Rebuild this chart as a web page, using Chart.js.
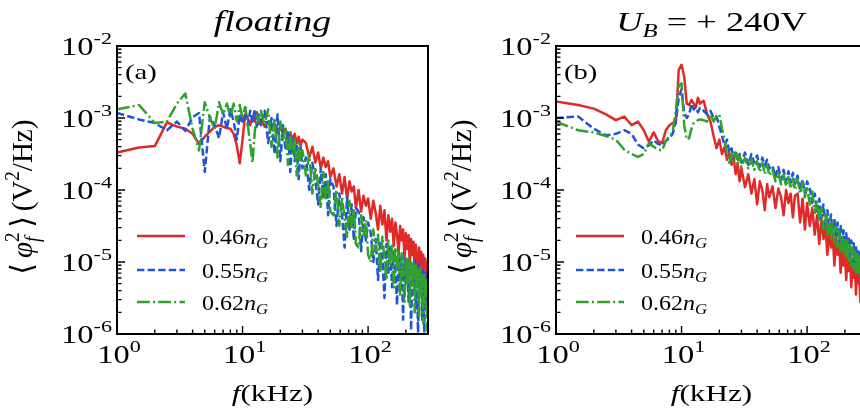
<!DOCTYPE html>
<html>
<head>
<meta charset="utf-8">
<script src="https://cdn.jsdelivr.net/npm/chart.js@4.4.1/dist/chart.umd.min.js"></script>
<style>
body{margin:0;width:860px;height:415px;overflow:hidden;background:#fff;position:relative}
canvas{position:absolute;top:0}
</style>
</head>
<body>
<canvas id="cA" width="440" height="415" style="left:0"></canvas>
<canvas id="cB" width="440" height="415" style="left:439px"></canvas>
<script>
// frequency grid (kHz), shared by both panels
const freqKHz = [1,1.5,2,2.5,3,3.5,4,4.5,5,5.5,6,6.5,7,7.5,8,8.5,9,9.5,10,
  10.5,11,11.5,12,12.5,13,13.5,14,
  15,16,17,18,19,20,21,22,23,24,25,26,27,28,29,30,
  32,34,36,38,40,42,44,46,48,50,
  53,56,59,62,65,68,71,74,77,80,
  84,88,92,96,100,
  105,110,115,120,125,130,135,140,145,150,155,160,165,170,175,180,185,190,195,200,
  205,210,215,220,225,230,235,240,245,250,255,260,265,270,275,280,285,290,295,300];

// log10 of <phi_f^2> (V^2/Hz)
// (a) floating
const redA = [-3.48,-3.41,-3.39,-3.06,-3.12,-3.15,-3.22,-3.36,-3.26,-3.19,-3.12,-3.10,-3.12,-3.14,-3.15,-3.22,-3.38,-3.63,-3.30,
  -2.95,-3.00,-3.10,-2.98,-3.05,-2.92,-3.08,-3.02,
  -3.12,-3.05,-3.15,-3.08,-3.20,-3.12,-3.22,-3.15,-3.28,-3.20,-3.30,-3.22,-3.35,-3.26,-3.38,-3.30,
  -3.35,-3.55,-3.40,-3.62,-3.48,-3.70,-3.55,-3.68,-3.60,-3.82,
  -3.70,-3.95,-3.78,-4.05,-3.82,-4.12,-3.88,-4.02,-3.95,-4.25,
  -4.00,-4.30,-4.08,-4.22,-4.12,
  -4.40,-4.15,-4.32,-4.55,-4.22,-4.48,-4.28,-4.70,-4.35,-4.58,-4.40,-4.78,-4.45,-4.62,-4.88,-4.50,-4.70,-4.55,-4.95,-4.60,
  -4.82,-4.63,-5.05,-4.68,-4.90,-4.72,-5.12,-4.76,-4.98,-5.18,-4.80,-5.05,-4.86,-5.25,-4.90,-5.10,-4.95,-5.30,-5.00,-5.22];
const blueA = [-2.93,-3.02,-3.07,-3.17,-3.05,-3.18,-2.99,-2.93,-3.75,-2.98,-3.10,-3.28,-2.92,-3.15,-2.88,-3.05,-3.30,-2.95,-3.08,
  -2.85,-3.10,-2.90,-3.05,-2.88,-3.12,-2.95,-3.10,
  -2.90,-3.35,-3.00,-3.50,-2.95,-3.60,-3.10,-3.45,-3.20,-3.75,-3.25,-3.60,-3.35,-3.85,-3.40,-3.70,
  -3.55,-4.00,-3.62,-3.85,-4.20,-3.70,-4.10,-3.78,-4.35,-3.85,
  -3.95,-4.50,-4.05,-4.35,-4.80,-4.10,-4.55,-4.20,-4.70,-4.25,
  -4.30,-4.85,-4.38,-4.70,-4.45,
  -4.60,-5.00,-4.68,-5.25,-4.70,-4.95,-5.50,-4.75,-5.15,-4.80,-5.35,-4.85,-5.10,-5.60,-4.88,-5.25,-4.92,-5.80,-4.95,-5.30,
  -4.98,-5.55,-5.00,-5.95,-5.05,-5.35,-4.98,-5.65,-5.08,-6.05,-5.02,-5.45,-5.10,-5.80,-5.12,-6.05,-5.15,-5.55,-5.20,-5.90];
const greenA = [-2.88,-2.82,-3.07,-3.05,-2.80,-2.66,-3.15,-3.45,-2.78,-3.00,-3.15,-2.78,-2.95,-2.80,-2.98,-2.80,-3.05,-2.82,-3.00,
  -2.85,-3.10,-3.35,-3.62,-3.20,-2.95,-3.05,-2.90,
  -3.10,-2.88,-3.40,-3.00,-3.55,-3.05,-3.30,-3.15,-3.65,-3.20,-3.50,-3.30,-3.80,-3.35,-3.62,-3.45,
  -3.80,-3.50,-4.05,-3.68,-3.92,-4.25,-3.75,-4.15,-3.85,-4.30,
  -4.35,-4.00,-4.50,-4.10,-4.40,-4.65,-4.15,-4.55,-4.25,-4.75,
  -4.80,-4.35,-4.62,-4.42,-4.90,
  -5.00,-4.55,-4.85,-4.62,-5.15,-4.65,-4.95,-5.25,-4.70,-5.05,-4.75,-5.35,-4.80,-5.10,-4.85,-5.45,-4.88,-5.20,-5.55,-4.92,
  -5.30,-4.95,-5.60,-4.98,-5.35,-5.02,-5.70,-5.05,-5.40,-5.08,-5.75,-5.10,-5.50,-5.15,-5.85,-5.18,-5.55,-5.22,-5.95,-5.30];

// (b) U_B = +240 V
const redB = [-2.77,-2.82,-2.87,-2.95,-3.03,-2.98,-3.10,-3.05,-3.17,-3.33,-3.20,-3.32,-3.35,-3.17,-3.10,-3.07,-3.07,-2.33,-2.26,
  -2.43,-2.80,-2.82,-2.75,-2.80,-2.85,-2.72,-2.80,
  -2.76,-2.95,-3.05,-3.25,-3.42,-3.30,-3.50,-3.40,-3.58,-3.48,-3.65,-3.55,-3.78,-3.62,-3.88,-3.70,
  -3.96,-3.78,-4.05,-3.85,-4.20,-3.88,-4.00,-4.28,-3.92,-4.10,
  -3.95,-4.25,-3.98,-4.10,-4.35,-4.00,-4.18,-4.05,-4.38,-4.08,
  -4.05,-4.45,-4.12,-4.55,-4.18,
  -4.50,-4.25,-4.62,-4.35,-4.75,-4.42,-4.68,-4.50,-4.90,-4.56,-4.80,-4.62,-5.05,-4.68,-4.90,-4.74,-5.15,-4.80,-5.05,-4.85,
  -5.25,-4.90,-5.12,-4.95,-5.35,-5.00,-5.22,-5.04,-5.45,-5.08,-5.30,-5.12,-5.55,-5.18,-5.40,-5.24,-5.62,-5.30,-5.50,-5.36];
const blueB = [-3.00,-2.98,-3.15,-3.24,-3.22,-3.17,-3.22,-3.37,-3.42,-3.38,-3.31,-3.36,-3.38,-3.32,-3.28,-3.22,-3.05,-2.72,-2.60,
  -2.93,-3.00,-2.95,-2.80,-2.88,-2.85,-2.92,-2.86,
  -2.90,-2.95,-2.90,-3.00,-2.98,-3.12,-3.25,-3.38,-3.30,-3.48,-3.42,-3.55,-3.45,-3.60,-3.50,-3.62,
  -3.48,-3.65,-3.50,-3.62,-3.52,-3.68,-3.55,-3.66,-3.58,-3.70,
  -3.66,-3.82,-3.68,-3.86,-3.72,-3.88,-3.74,-3.90,-3.76,-3.92,
  -3.80,-4.00,-3.85,-4.05,-3.88,
  -3.98,-4.18,-4.05,-4.30,-4.12,-4.40,-4.20,-4.50,-4.28,-4.56,-4.34,-4.62,-4.40,-4.68,-4.45,-4.74,-4.50,-4.78,-4.56,-4.84,
  -4.60,-4.90,-4.65,-4.94,-4.70,-5.00,-4.74,-5.04,-4.78,-5.08,-4.82,-5.12,-4.87,-5.16,-4.90,-5.20,-4.94,-5.24,-4.98,-5.28];
const greenB = [-3.05,-3.17,-3.20,-3.25,-3.30,-3.44,-3.50,-3.54,-3.50,-3.35,-3.40,-3.44,-3.45,-3.32,-3.25,-3.19,-2.90,-2.55,-2.52,
  -3.10,-3.30,-3.28,-3.15,-3.07,-3.05,-3.03,-3.02,
  -3.03,-3.05,-2.95,-3.05,-2.97,-2.95,-3.15,-3.30,-3.50,-3.62,-3.50,-3.60,-3.48,-3.65,-3.52,-3.68,
  -3.55,-3.70,-3.58,-3.72,-3.60,-3.75,-3.62,-3.78,-3.65,-3.80,
  -3.72,-3.88,-3.76,-3.92,-3.78,-3.95,-3.82,-3.98,-3.84,-4.00,
  -3.85,-4.05,-3.90,-4.10,-3.95,
  -4.20,-4.02,-4.32,-4.15,-4.44,-4.25,-4.55,-4.34,-4.62,-4.40,-4.68,-4.46,-4.74,-4.50,-4.80,-4.56,-4.85,-4.62,-4.90,-4.66,
  -4.96,-4.70,-5.00,-4.76,-5.05,-4.80,-5.10,-4.85,-5.14,-4.88,-5.17,-4.92,-5.20,-4.96,-5.24,-5.00,-5.28,-5.04,-5.32,-5.08];

const densityLabels = ["0.46", "0.55", "0.62"];
const yExponents = [-2, -3, -4, -5, -6];
const xExponents = [0, 1, 2];

const FAM = '"Liberation Serif", "DejaVu Serif", "DejaVu Sans", serif';
const SX = 1.3;
const colors = ["#e02a27", "#1f55d6", "#2fa12c"];
const dashes = [[], [7.4, 3.2], [12.8, 3.2, 2, 3.2]];

function fnt(size, italic){ return (italic ? "italic " : "") + size + "px " + FAM; }

function runsWidth(ctx, runs, sx){
  let w = 0;
  for (const r of runs){
    if (r.gap){ w += r.gap; continue; }
    let m = 0;
    for (const s of (r.stack || [r])){
      ctx.font = fnt(s.size, s.italic);
      m = Math.max(m, ctx.measureText(s.t).width * sx);
    }
    w += m;
  }
  return w;
}

function drawRuns(ctx, runs, x, y, align, sx){
  const w = runsWidth(ctx, runs, sx);
  let cx = align === "center" ? x - w / 2 : align === "right" ? x - w : x;
  for (const r of runs){
    if (r.gap){ cx += r.gap; continue; }
    let m = 0;
    for (const s of (r.stack || [r])){
      ctx.font = fnt(s.size, s.italic);
      ctx.save();
      ctx.translate(cx, y + (s.dy || 0));
      ctx.scale(sx, 1);
      ctx.fillText(s.t, 0, 0);
      ctx.restore();
      m = Math.max(m, ctx.measureText(s.t).width * sx);
    }
    cx += m;
  }
}

const decor = {
  id: "decor",
  afterDraw(chart, args, opts){
    const ctx = chart.ctx, a = chart.chartArea;
    const xs = chart.scales.x, ys = chart.scales.y;
    ctx.save();
    ctx.fillStyle = "#000";
    ctx.strokeStyle = "#000";
    ctx.textBaseline = "alphabetic";
    ctx.setLineDash([]);

    // ticks, inward on left and bottom
    ctx.lineWidth = 1.4;
    ctx.beginPath();
    for (const e of yExponents){
      const y = ys.getPixelForValue(Math.pow(10, e));
      ctx.moveTo(a.left, y); ctx.lineTo(a.left + 8, y);
      if (e < -2){
        for (let k = 2; k <= 9; k++){
          const ym = ys.getPixelForValue(k * Math.pow(10, e));
          ctx.moveTo(a.left, ym); ctx.lineTo(a.left + 4.5, ym);
        }
      }
    }
    for (const e of xExponents){
      const x = xs.getPixelForValue(Math.pow(10, e));
      ctx.moveTo(x, a.bottom); ctx.lineTo(x, a.bottom - 8);
      for (let k = 2; k <= 9; k++){
        const v = k * Math.pow(10, e);
        if (v >= 300) break;
        const xm = xs.getPixelForValue(v);
        ctx.moveTo(xm, a.bottom); ctx.lineTo(xm, a.bottom - 4.5);
      }
    }
    ctx.stroke();

    // frame
    ctx.lineWidth = 2;
    ctx.strokeRect(a.left, a.top, a.right - a.left, a.bottom - a.top);

    // tick labels
    for (const e of yExponents){
      const y = ys.getPixelForValue(Math.pow(10, e));
      drawRuns(ctx, [{t: "10", size: 25}, {t: String(e), size: 17, dy: -11}], a.left - 5, y + 9, "right", SX);
    }
    for (const e of xExponents){
      const x = xs.getPixelForValue(Math.pow(10, e));
      drawRuns(ctx, [{t: "10", size: 25}, {t: String(e), size: 17, dy: -11}], x + 2, a.bottom + 29, "center", SX);
    }

    // title and panel label
    drawRuns(ctx, opts.title, (a.left + a.right) / 2, 31, "center", SX);
    drawRuns(ctx, [{t: opts.tag, size: 22}], a.left + 8, 79, "left", SX);

    // x label
    drawRuns(ctx, [{t: "f", size: 24, italic: true}, {t: "(kHz)", size: 24}], (a.left + a.right) / 2, 401, "center", SX);

    // y label (rotated)
    ctx.save();
    ctx.translate(32, 197);
    ctx.rotate(-Math.PI / 2);
    ctx.scale(1, 1.05);
    drawRuns(ctx, [
      {t: "\u27e8", size: 29}, {gap: 5},
      {t: "\u03c6", size: 29, italic: true},
      {stack: [{t: "f", size: 19, italic: true, dy: 7}, {t: "2", size: 19, dy: -12}]}, {gap: 5},
      {t: "\u27e9", size: 29}, {gap: 5},
      {t: "(V", size: 29}, {t: "2", size: 19, dy: -12}, {t: "/Hz)", size: 29}
    ], 0, 0, "center", 1);
    ctx.restore();

    // legend
    const rows = [98, 64, 32];
    chart.data.datasets.forEach((ds, i) => {
      const y = a.bottom - rows[i];
      ctx.strokeStyle = ds.borderColor;
      ctx.lineWidth = 2.4;
      ctx.setLineDash(ds.borderDash);
      ctx.beginPath();
      ctx.moveTo(a.left + 20, y); ctx.lineTo(a.left + 68, y);
      ctx.stroke();
      ctx.setLineDash([]);
      drawRuns(ctx, [{t: densityLabels[i], size: 20}, {t: "n", size: 20, italic: true}, {t: "G", size: 14, italic: true, dy: 4}],
        a.left + 85, y + 8, "left", 1.2);
    });
    ctx.restore();
  }
};

function makeChart(id, series, title, tag){
  const datasets = series.map((vals, i) => ({
    label: densityLabels[i],
    data: freqKHz.map((f, j) => ({x: f, y: Math.pow(10, vals[j])})),
    borderColor: colors[i],
    borderDash: dashes[i],
    borderWidth: 2.5,
    borderJoinStyle: "round",
    pointRadius: 0,
    tension: 0,
    fill: false,
    order: 3 - i
  }));
  return new Chart(document.getElementById(id), {
    type: "line",
    data: {datasets},
    options: {
      responsive: false,
      animation: false,
      devicePixelRatio: 1,
      layout: {padding: {left: 117, right: 12, top: 46, bottom: 81}},
      scales: {
        x: {type: "logarithmic", min: 1, max: 300, display: false},
        y: {type: "logarithmic", min: 1e-6, max: 1e-2, display: false}
      },
      plugins: {legend: {display: false}, tooltip: {enabled: false}, decor: {title, tag}}
    },
    plugins: [decor]
  });
}

makeChart("cA", [redA, blueA, greenA], [{t: "floating", size: 29, italic: true}], "(a)");
makeChart("cB", [redB, blueB, greenB],
  [{t: "U", size: 28, italic: true}, {t: "B", size: 19, italic: true, dy: 6}, {t: " = + 240V", size: 28}], "(b)");
</script>
</body>
</html>
